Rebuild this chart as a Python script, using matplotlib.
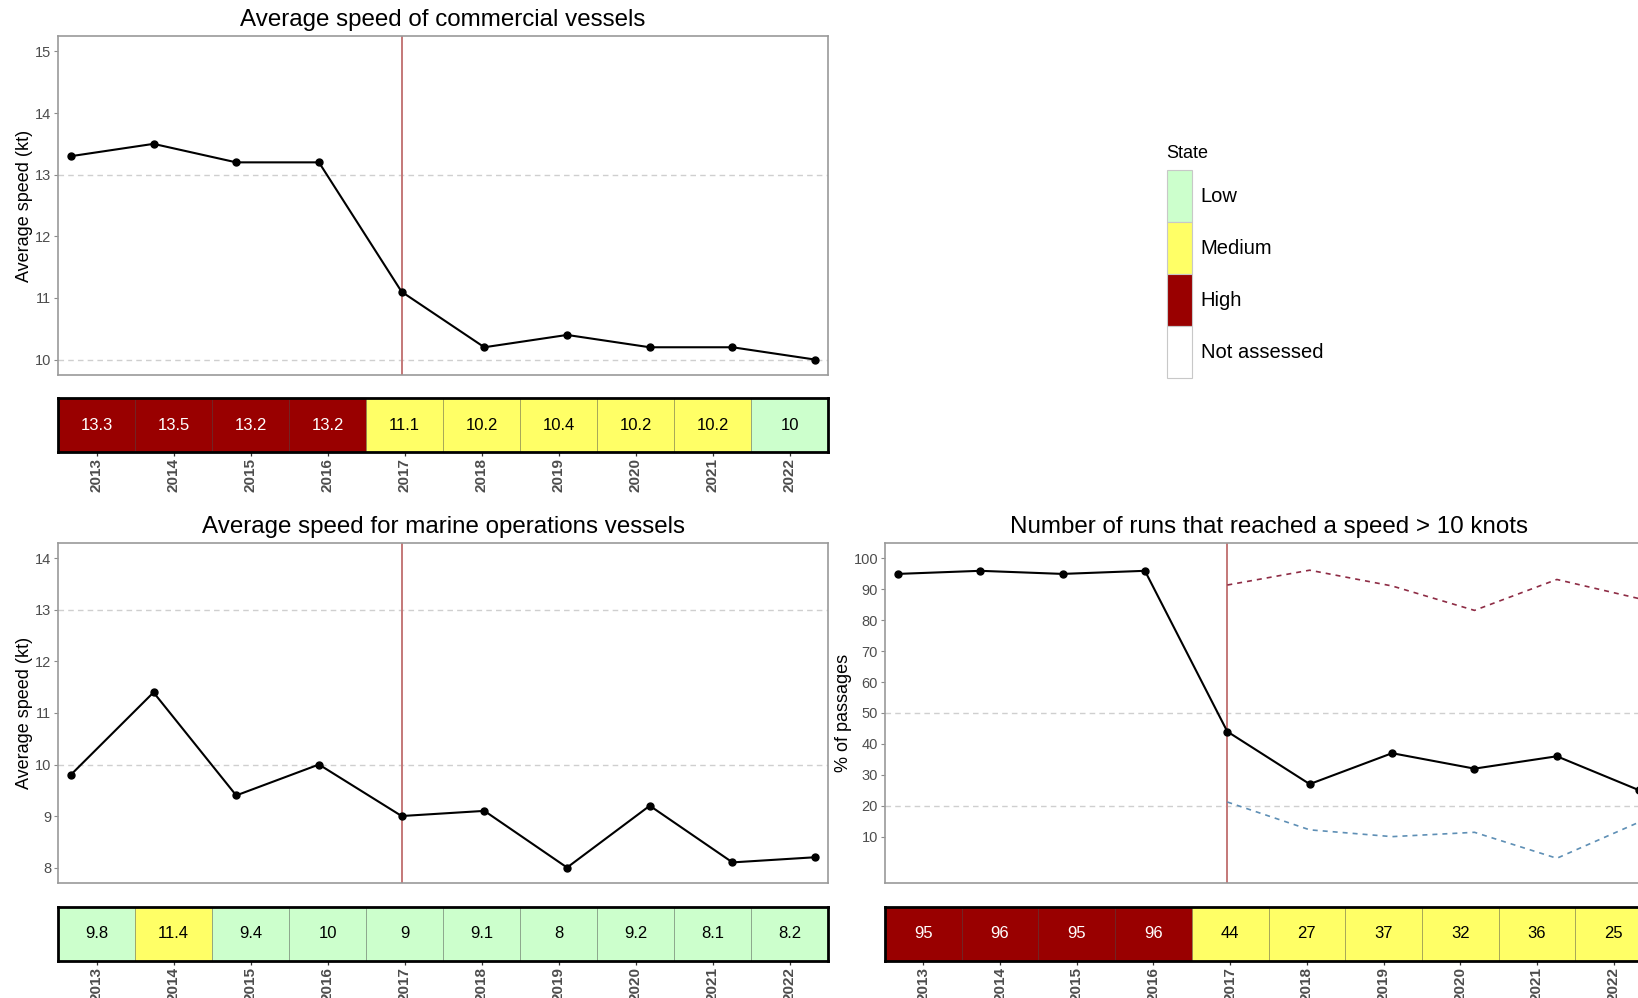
import numpy as np
import matplotlib
matplotlib.use("Agg")
import matplotlib.pyplot as plt
from matplotlib.patches import Patch

plt.rcParams['font.family'] = ['Liberation Sans', 'DejaVu Sans']

years = [2013, 2014, 2015, 2016, 2017, 2018, 2019, 2020, 2021, 2022]

commercial_speed = [13.3, 13.5, 13.2, 13.2, 11.1, 10.2, 10.4, 10.2, 10.2, 10]
commercial_state = ['High', 'High', 'High', 'High', 'Medium', 'Medium', 'Medium', 'Medium', 'Medium', 'Low']

marine_speed = [9.8, 11.4, 9.4, 10, 9, 9.1, 8, 9.2, 8.1, 8.2]
marine_state = ['Low', 'Medium', 'Low', 'Low', 'Low', 'Low', 'Low', 'Low', 'Low', 'Low']

runs_pct = [95, 96, 95, 96, 44, 27, 37, 32, 36, 25]
runs_state = ['High', 'High', 'High', 'High', 'Medium', 'Medium', 'Medium', 'Medium', 'Medium', 'Medium']

band_years = [2017, 2018, 2019, 2020, 2021, 2022]
runs_upper = [91.4, 96.2, 91.1, 83.2, 93.2, 87]
runs_lower = [21.2, 12.2, 10.0, 11.4, 3.0, 14.7]

state_names = ['Low', 'Medium', 'High', 'Not assessed']
state_colors = {'Low': '#CCFFCC', 'Medium': '#FFFF66', 'High': '#990000', 'Not assessed': 'white'}

W, H = 1638, 998
fig = plt.figure(figsize=(W / 100, H / 100), dpi=100)

TICK_GREY = '#4D4D4D'


def px_axes(x0, y0, x1, y1):
    # axes from pixel box (top-left origin)
    return fig.add_axes([x0 / W, 1 - y1 / H, (x1 - x0) / W, (y1 - y0) / H])


def line_panel(box, values, ylim, yticks, hlines, title, ylabel, ylabel_x):
    ax = px_axes(*box)
    pad = 0.155
    ax.set_xlim(years[0] - pad, years[-1] + pad)
    span = ylim[1] - ylim[0]
    ax.set_ylim(ylim[0] - 0.05 * span, ylim[1] + 0.05 * span)
    for h in hlines:
        ax.axhline(h, color='#CFCFCF', lw=1.0, ls=(0, (4, 3)), zorder=1)
    ax.axvline(2017, color='#C47878', lw=1.4, zorder=2)
    ax.plot(years, values, color='black', lw=1.5, marker='o', ms=5, zorder=4, clip_on=False)
    ax.set_xticks([])
    ax.set_yticks(yticks)
    ax.tick_params(axis='y', colors='#8A8A8A', labelcolor=TICK_GREY, labelsize=10.5,
                   length=3, width=0.8, pad=2)
    for s in ax.spines.values():
        s.set_color('#9A9A9A')
        s.set_linewidth(1.2)
    ax.set_title(title, fontsize=17.4, pad=7)
    ax.set_ylabel(ylabel, fontsize=13)
    ax.yaxis.set_label_coords((ylabel_x - box[0]) / (box[2] - box[0]), 0.5)
    return ax


def state_strip(box, values, states, fmt):
    ax = px_axes(*box)
    idx = np.arange(len(years))
    cols = [state_colors[s] for s in states]
    ax.bar(idx, 1, width=1, bottom=0, color=cols, edgecolor=(0, 0, 0, 0.25), linewidth=0.7)
    for i, v, s in zip(idx, values, states):
        ax.text(i, 0.5, fmt(v), ha='center', va='center', fontsize=12,
                color='white' if s == 'High' else 'black')
    ax.set_xlim(-0.5, len(years) - 0.5)
    ax.set_ylim(0, 1)
    ax.set_yticks([])
    ax.set_xticks(idx)
    ax.set_xticklabels([str(y) for y in years], rotation=90, fontweight='bold',
                       fontsize=11, color=TICK_GREY)
    ax.tick_params(axis='x', length=3, width=0.9, colors='#333333', labelcolor=TICK_GREY, pad=1.5)
    for s in ax.spines.values():
        s.set_color('black')
        s.set_linewidth(2.0)
    return ax


def fmt_num(v):
    return ('%g' % v)


# commercial vessels
line_panel((58, 36, 828, 375), commercial_speed, (10, 15), [10, 11, 12, 13, 14, 15], [10, 13],
           'Average speed of commercial vessels', 'Average speed (kt)', 33)
state_strip((58, 398, 828, 452), commercial_speed, commercial_state, fmt_num)

# marine operations vessels
line_panel((58, 543, 828, 883), marine_speed, (8, 14), [8, 9, 10, 11, 12, 13, 14], [10, 13],
           'Average speed for marine operations vessels', 'Average speed (kt)', 33)
state_strip((58, 907, 828, 961), marine_speed, marine_state, fmt_num)

# runs above 10 knots
ax3 = line_panel((885, 543, 1652, 883), runs_pct, (0, 100), list(range(10, 101, 10)), [20, 50],
                 'Number of runs that reached a speed > 10 knots', '% of passages', 852)
ax3.plot(band_years, runs_upper, color='#8E2C45', lw=1.2, ls=(0, (3, 3)), zorder=3)
ax3.plot(band_years, runs_lower, color='#5E8FB5', lw=1.2, ls=(0, (3, 3)), zorder=3)
state_strip((885, 907, 1652, 961), runs_pct, runs_state, fmt_num)

# state legend
fig.text(1166 / W, 1 - 153 / H, 'State', fontsize=13, ha='left', va='center')
handles = [Patch(facecolor=state_colors[s], edgecolor='#C8C8C8', linewidth=0.8) for s in state_names]
leg = fig.legend(handles, state_names, loc='upper left',
                 bbox_to_anchor=(1167 / W, 1 - 170 / H), frameon=False,
                 fontsize=14.5, handlelength=1.25, handleheight=3.6, labelspacing=0,
                 handletextpad=0.42, borderpad=0, borderaxespad=0)

fig.savefig('out.png', dpi=100)
